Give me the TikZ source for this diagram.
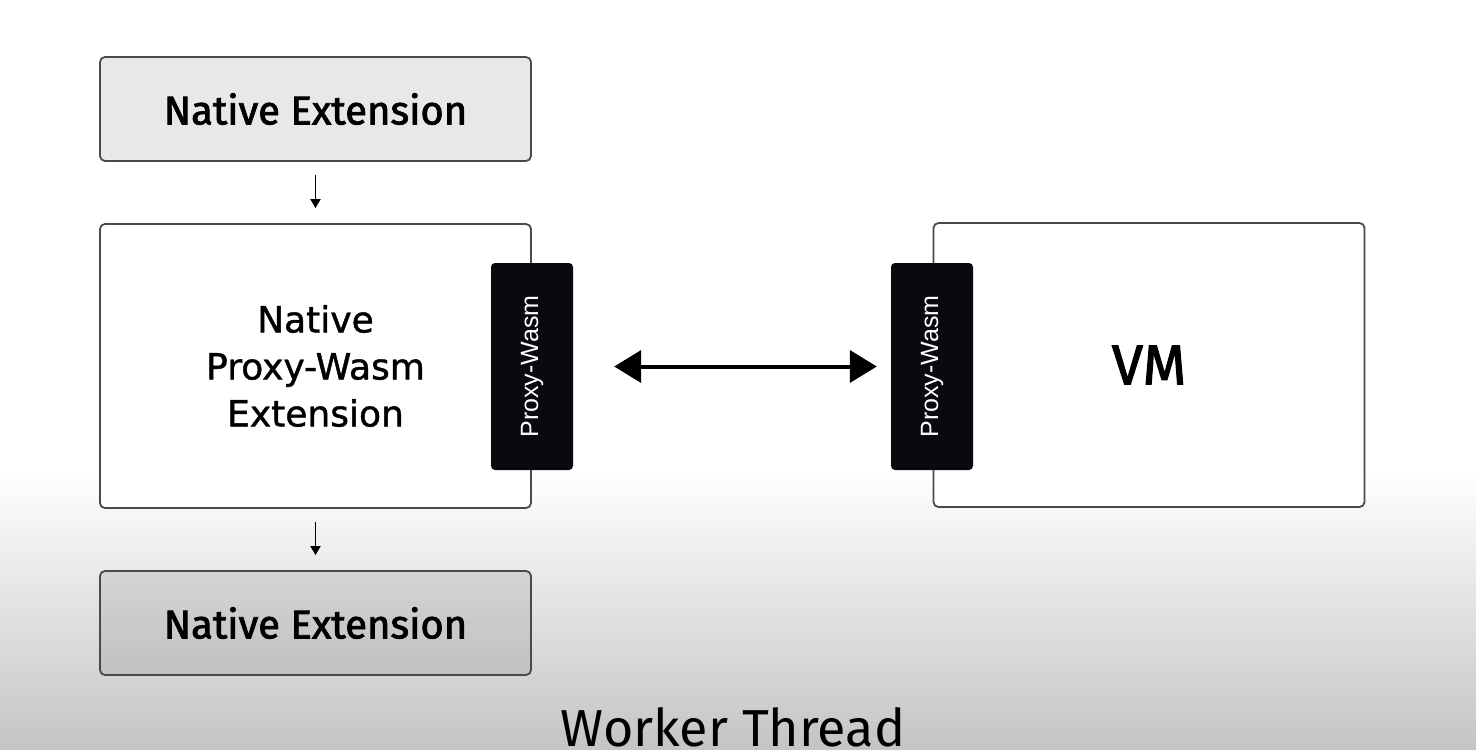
\documentclass[tikz,border=0pt]{standalone}
\usepackage{fontspec}
\setmainfont{Fira Sans}
\newfontfamily\pwfont{Liberation Sans}
\newfontfamily\midfont{DejaVu Sans}[FakeBold=1.2]
\newfontfamily\semifont{Fira Sans}[FakeBold=2]
\usetikzlibrary{arrows.meta}
\definecolor{edgegray}{HTML}{4A4A4A}
\definecolor{pwblack}{HTML}{080A10}
\tikzset{
  box/.style={draw=edgegray, line width=1.8pt, rounded corners=5pt, inner sep=0pt},
  natbox/.style={box, fill=black, fill opacity=0.09, text opacity=1, minimum width=431pt, minimum height=104pt,
    font=\semifont\fontsize{40}{44}\selectfont},
  bigbox/.style={box, fill=white, minimum width=431pt, minimum height=284pt},
  pwbox/.style={fill=pwblack, rounded corners=4pt, minimum width=82pt, minimum height=207pt, inner sep=0pt},
  pwtext/.style={text=white, rotate=90, font=\pwfont\fontsize{25}{28}\selectfont},
  smallarrow/.style={line width=1.8pt, -{Triangle[width=10pt,length=9pt]}},
  bigarrow/.style={line width=4pt, {Triangle[width=32pt,length=27pt]}-{Triangle[width=32pt,length=27pt]}}
}
\begin{document}
\begin{tikzpicture}[x=1pt,y=-1pt]
  % background
  \fill[white] (0,0) rectangle (1476,470);
  \shade[top color=white, bottom color=black!23, shading angle=0] (0,470) rectangle (1476,750);
  \useasboundingbox (0,0) rectangle (1476,750);

  % boxes
  \node[natbox] (top) at (315.5,109) {Native Extension};
  \node[bigbox, align=center, font=\midfont\fontsize{36}{47}\selectfont] (mid) at (315.5,366) {Native\\Proxy-Wasm\\Extension};
  \node[natbox] (bot) at (315.5,623) {Native Extension};
  \node[bigbox] (vm) at (1149,365) {};
  \node[font=\semifont\fontsize{56}{60}\selectfont] (vmtext) at (vm.center) {VM};

  % proxy-wasm tabs
  \node[pwbox] (pwl) at (532,366.5) {};
  \node[pwtext] (pwlt) at (pwl.center) {Proxy-Wasm};
  \node[pwbox] (pwr) at (932,366.5) {};
  \node[pwtext] (pwrt) at (pwr.center) {Proxy-Wasm};

  % connectors
  \draw[smallarrow, shorten <=13pt, shorten >=15pt] (top.south) -- (mid.north);
  \draw[smallarrow, shorten <=13pt, shorten >=15pt] (mid.south) -- (bot.north);
  \draw[bigarrow, shorten <=41pt, shorten >=14pt] (pwl.east) -- (pwr.west);

  % caption
  \node[anchor=base, inner sep=0pt, font=\fontsize{52}{56}\selectfont] (wt) at (733,746) {Worker Thread};
\end{tikzpicture}
\end{document}
